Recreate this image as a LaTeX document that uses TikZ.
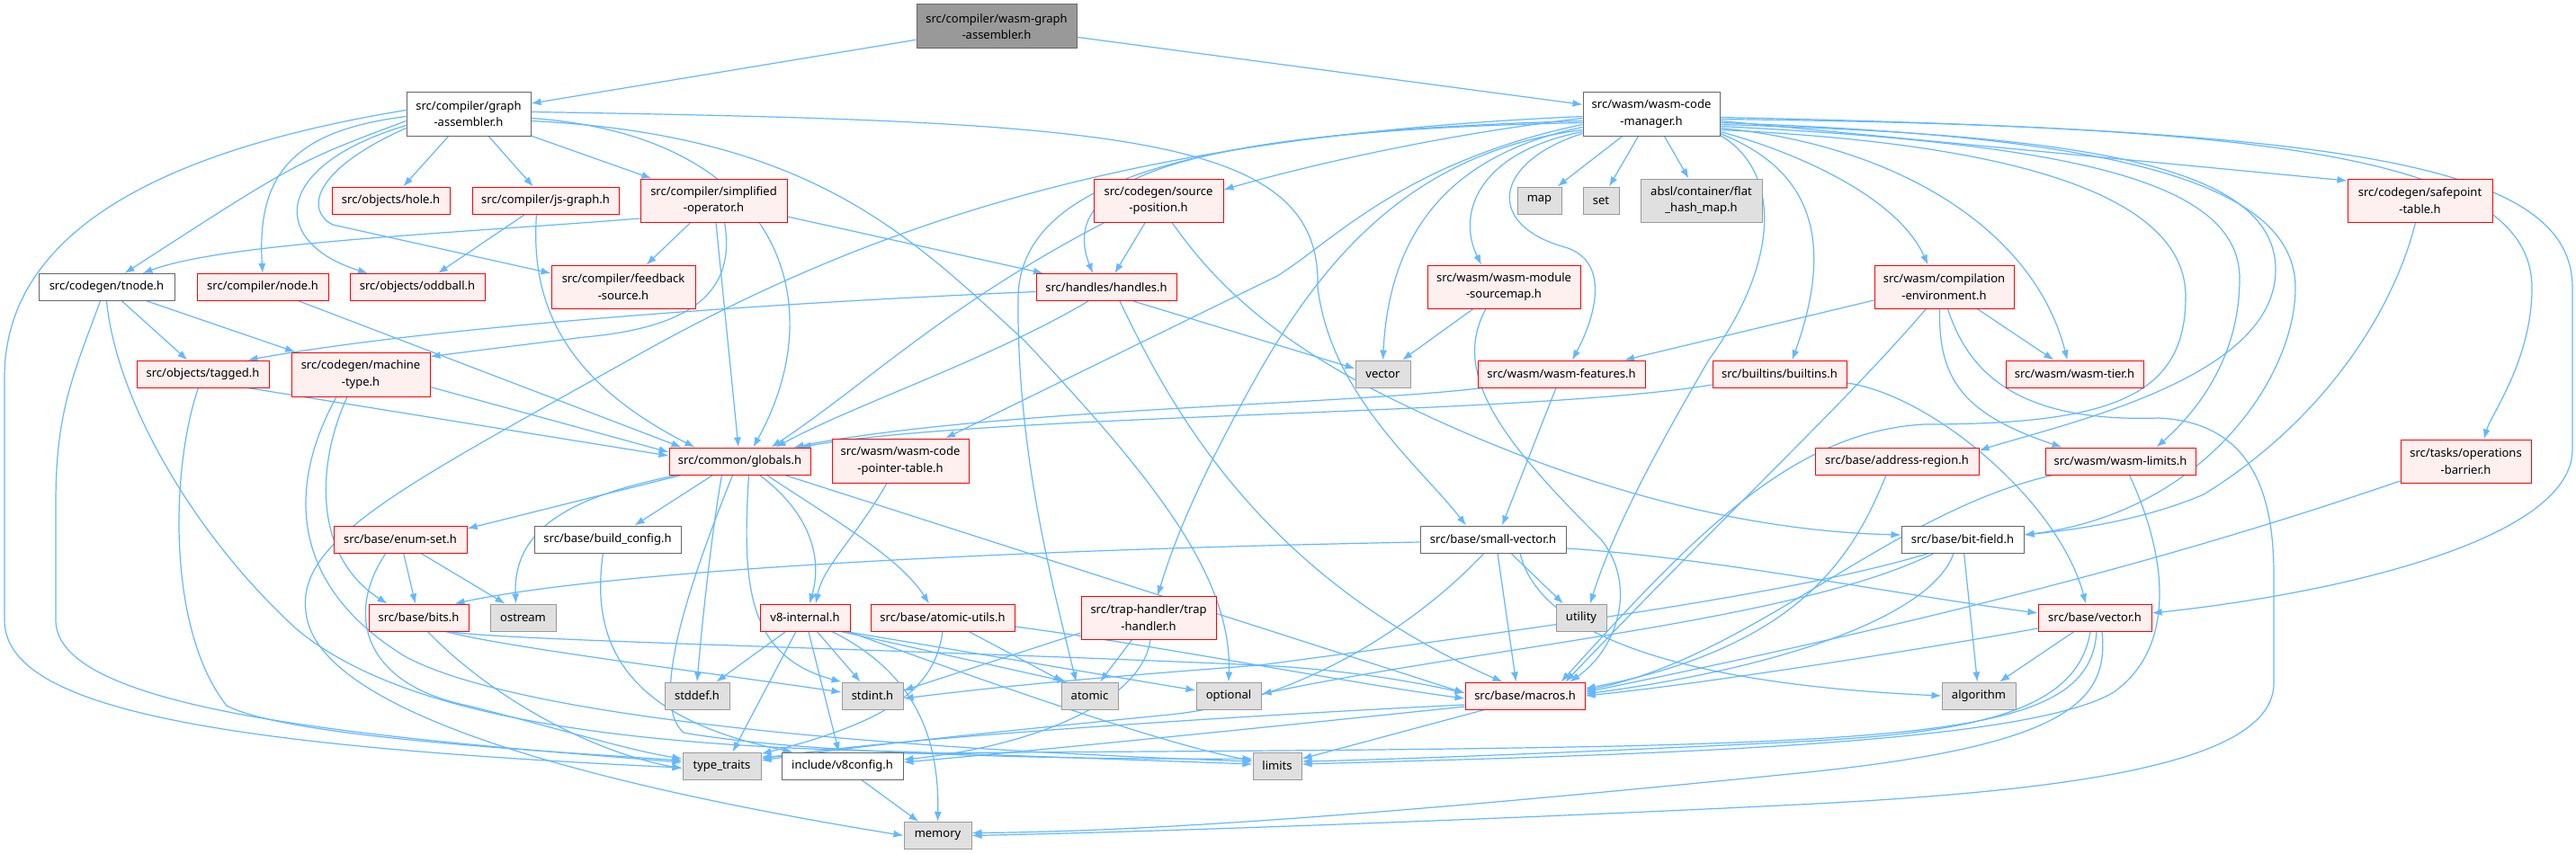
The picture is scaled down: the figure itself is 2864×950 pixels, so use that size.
\documentclass[tikz,border=0pt]{standalone}
\usepackage{fontspec}
\usetikzlibrary{arrows.meta}
\newfontfamily\nodefontfam{Noto Sans}
\newcommand\nodefont{\nodefontfam\fontsize{13}{18.5}\selectfont}
\definecolor{edgeblue}{HTML}{63B8FF}
\definecolor{nodered}{HTML}{FF0000}
\definecolor{nodefill}{HTML}{FFF0F0}
\definecolor{graydraw}{HTML}{999999}
\definecolor{grayfill}{HTML}{E0E0E0}
\definecolor{whitedraw}{HTML}{666666}
\definecolor{rootfill}{HTML}{999999}
\pgfdeclarelayer{bg}
\pgfdeclarelayer{edges}
\pgfsetlayers{bg,edges,main}
\tikzset{
 box/.style={draw, line width=1pt, inner sep=0pt, align=center, font=\nodefont, minimum height=30pt},
 rednode/.style={box, draw=nodered, fill=nodefill},
 graynode/.style={box, draw=graydraw, fill=grayfill},
 whitenode/.style={box, draw=whitedraw, fill=white},
 rootnode/.style={box, draw=whitedraw, fill=rootfill},
 edge/.style={draw=edgeblue, line width=1.2pt, -{Latex[length=11pt,width=8pt]}},
}
\begin{document}
\begin{tikzpicture}[x=1pt,y=-1pt]
\begin{pgfonlayer}{bg}
\fill[white] (0,0) rectangle (2864,950);
\end{pgfonlayer}
\path[use as bounding box] (0,0) rectangle (2864,950);
% nodes
\node[rootnode, minimum width=178pt, minimum height=49pt] (wga) at (1108,29.5) {src/compiler/wasm-graph\\-assembler.h};
\node[whitenode, minimum width=138pt, minimum height=49pt] (ga) at (521,126.5) {src/compiler/graph\\-assembler.h};
\node[whitenode, minimum width=152pt, minimum height=49pt] (wcm) at (1836,126.5) {src/wasm/wasm-code\\-manager.h};
\node[rednode, minimum width=131pt] (hole) at (434.5,223) {src/objects/hole.h};
\node[rednode, minimum width=163pt] (jsgraph) at (606.5,223) {src/compiler/js-graph.h};
\node[rednode, minimum width=163pt, minimum height=48pt] (simpop) at (793.5,223) {src/compiler/simplified\\-operator.h};
\node[rednode, minimum width=144pt, minimum height=48pt] (srcpos) at (1288,223) {src/codegen/source\\-position.h};
\node[graynode, minimum width=49pt] (map) at (1711.5,223) {map};
\node[graynode, minimum width=40pt] (set) at (1780,223) {set};
\node[graynode, minimum width=135pt, minimum height=48pt] (flat) at (1891.5,223) {absl/container/flat\\\_hash\_map.h};
\node[rednode, minimum width=161pt, minimum height=48pt] (safepoint) at (2690.5,223) {src/codegen/safepoint\\-table.h};
\node[whitenode, minimum width=151pt] (tnode) at (118.5,319.5) {src/codegen/tnode.h};
\node[rednode, minimum width=146pt] (cnode) at (292,319.5) {src/compiler/node.h};
\node[rednode, minimum width=150pt] (oddball) at (464,319.5) {src/objects/oddball.h};
\node[rednode, minimum width=160pt, minimum height=48pt] (feedback) at (693,319) {src/compiler/feedback\\-source.h};
\node[rednode, minimum width=156pt] (handles) at (1230,319.5) {src/handles/handles.h};
\node[rednode, minimum width=170pt, minimum height=48pt] (sourcemap) at (1672,319) {src/wasm/wasm-module\\-sourcemap.h};
\node[rednode, minimum width=155pt, minimum height=48pt] (compenv) at (2161.5,319) {src/wasm/compilation\\-environment.h};
\node[rednode, minimum width=147pt] (tagged) at (225.5,416) {src/objects/tagged.h};
\node[rednode, minimum width=154pt, minimum height=49pt] (machine) at (401,416.5) {src/codegen/machine\\-type.h};
\node[graynode, minimum width=61pt] (vectorstd) at (1537.5,416) {vector};
\node[rednode, minimum width=186pt] (features) at (1736,416) {src/wasm/wasm-features.h};
\node[rednode, minimum width=149pt] (builtins) at (1978.5,416) {src/builtins/builtins.h};
\node[rednode, minimum width=153pt] (tier) at (2306.5,416) {src/wasm/wasm-tier.h};
\node[rednode, minimum width=157pt] (globals) at (822.5,513) {src/common/globals.h};
\node[rednode, minimum width=152pt, minimum height=49pt] (cptable) at (1001,512.5) {src/wasm/wasm-code\\-pointer-table.h};
\node[rednode, minimum width=182pt] (addr) at (2109,513) {src/base/address-region.h};
\node[rednode, minimum width=167pt] (limitsw) at (2357.5,513) {src/wasm/wasm-limits.h};
\node[rednode, minimum width=145pt, minimum height=48pt] (opbarrier) at (2741.5,513) {src/tasks/operations\\-barrier.h};
\node[rednode, minimum width=148pt] (enumset) at (445,600) {src/base/enum-set.h};
\node[whitenode, minimum width=163pt] (buildconfig) at (675.5,600) {src/base/build\_config.h};
\node[whitenode, minimum width=162pt] (smallvec) at (1660,600) {src/base/small-vector.h};
\node[whitenode, minimum width=136pt] (bitfield) at (2182,600) {src/base/bit-field.h};
\node[rednode, minimum width=111pt] (bits) at (465.5,687) {src/base/bits.h};
\node[graynode, minimum width=73pt] (ostream) at (581.5,687) {ostream};
\node[rednode, minimum width=100pt] (v8internal) at (895,687) {v8-internal.h};
\node[rednode, minimum width=160pt] (atomicutils) at (1048,687) {src/base/atomic-utils.h};
\node[rednode, minimum width=150pt, minimum height=48pt] (trap) at (1277,687) {src/trap-handler/trap\\-handler.h};
\node[graynode, minimum width=56pt] (utility) at (1758,687) {utility};
\node[rednode, minimum width=126pt] (basevector) at (2329,687) {src/base/vector.h};
\node[graynode, minimum width=72pt] (stddef) at (775,774) {stddef.h};
\node[graynode, minimum width=68pt] (stdint) at (970,774) {stdint.h};
\node[graynode, minimum width=63pt] (atomic) at (1211.5,774) {atomic};
\node[graynode, minimum width=72pt] (optional) at (1366,774) {optional};
\node[rednode, minimum width=133pt] (macros) at (1695.5,774) {src/base/macros.h};
\node[graynode, minimum width=82pt] (algorithm) at (2200,774) {algorithm};
\node[graynode, minimum width=87pt] (typetraits) at (802.5,852) {type\_traits};
\node[whitenode, minimum width=135pt] (v8config) at (936.5,852) {include/v8config.h};
\node[graynode, minimum width=54pt] (limits) at (1420,852) {limits};
\node[graynode, minimum width=75pt] (memory) at (1042.5,929.5) {memory};
% edges
\begin{pgfonlayer}{edges}
\draw[edge] (wga) -- (ga);
\draw[edge] (wga) -- (wcm);
% graph-assembler
\draw[edge] (ga) -- (hole);
\draw[edge] (ga) -- (jsgraph);
\draw[edge] (ga) -- (simpop);
\draw[edge] ([yshift=-8pt]ga.west) .. controls (330,180) .. ([xshift=20pt]tnode.north);
\draw[edge] ([yshift=-3pt]ga.west) .. controls (330,145) and (285,190) .. (cnode.north);
\draw[edge] ([yshift=-13pt]ga.west) .. controls (300,185) and (300,270) .. ([xshift=-55pt]oddball.north);
\draw[edge] ([yshift=-16pt]ga.west) .. controls (345,190) and (340,235) .. (370,250) -- ([yshift=15pt]feedback.west);
\draw[edge] ([yshift=4pt]ga.west) .. controls (100,180) and (5,300) .. (5,420) -- (5,690) .. controls (5,790) and (250,830) .. ([yshift=-2pt]typetraits.west);
\draw[edge] ([yshift=-5pt]ga.east) .. controls (860,150) and (930,330) .. ([xshift=15pt]globals.north);
\draw[edge] ([yshift=-8pt]ga.east) .. controls (900,150) and (1010,260) .. (1140,380) .. controls (1280,530) and (1370,640) .. (optional.north);
\draw[edge] ([yshift=2pt]ga.east) .. controls (1250,135) and (1470,150) .. (1465,320) .. controls (1480,440) and (1580,520) .. ([xshift=-30pt]smallvec.north);
% wasm-code-manager
\draw[edge] (wcm) -- (map);
\draw[edge] (wcm) -- (set);
\draw[edge] (wcm) -- (flat);
\draw[edge] ([yshift=-5pt]wcm.west) .. controls (1600,150) and (1450,185) .. ([yshift=12pt]srcpos.east);
\draw[edge] ([yshift=-8pt]wcm.east) -- ([yshift=22pt]safepoint.west);
\draw[edge] ([yshift=-10pt]wcm.west) .. controls (1350,145) and (1170,190) .. ([xshift=-15pt]handles.north);
\draw[edge] ([yshift=-20pt]wcm.west) .. controls (1640,170) and (1620,240) .. ([xshift=-25pt]sourcemap.north);
\draw[edge] ([yshift=-20pt]wcm.east) .. controls (2000,170) and (2110,220) .. ([xshift=-18pt]compenv.north);
\draw[edge] ([yshift=-15pt]wcm.west) .. controls (1620,170) and (1545,250) .. (vectorstd.north);
\draw[edge] ([yshift=-22pt]wcm.west) .. controls (1660,180) and (1650,250) .. (1740,275) .. controls (1790,290) and (1775,350) .. ([xshift=12pt]features.north);
\draw[edge] ([yshift=-22pt]wcm.east) .. controls (1990,180) and (2050,240) .. ([xshift=14pt]builtins.north);
\draw[edge] ([yshift=-16pt]wcm.east) .. controls (2100,160) and (2260,250) .. ([xshift=-8pt]tier.north);
\draw[edge] ([yshift=-12pt]wcm.west) .. controls (1560,180) and (1480,270) .. (1420,307) -- ([xshift=50pt]cptable.north);
\draw[edge] ([yshift=-12pt]wcm.east) .. controls (2300,150) and (2530,180) .. (2530,300) .. controls (2530,420) and (2300,470) .. ([yshift=12pt]addr.east);
\draw[edge] ([yshift=-14pt]wcm.east) .. controls (2300,160) and (2490,200) .. (2490,310) .. controls (2490,400) and (2440,460) .. ([xshift=40pt]limitsw.north);
\draw[edge] ([yshift=-6pt]wcm.east) .. controls (2500,140) and (2815,170) .. (2815,320) .. controls (2815,400) and (2770,460) .. ([xshift=20pt]opbarrier.north);
\draw[edge] ([yshift=-10pt]wcm.east) .. controls (2300,150) and (2552,190) .. (2552,320) .. controls (2552,420) and (2450,570) .. ([yshift=5pt]bitfield.east);
\draw[edge] ([yshift=-18pt]wcm.west) .. controls (1560,170) and (1460,300) .. (1380,450) .. controls (1320,560) and (1300,620) .. ([xshift=10pt]trap.north);
\draw[edge] ([yshift=-24pt]wcm.east) .. controls (1980,190) and (1980,290) .. (1900,400) .. controls (1830,520) and (1790,600) .. ([xshift=10pt]utility.north);
\draw[edge] ([yshift=-4pt]wcm.east) .. controls (2600,145) and (2860,180) .. (2860,320) -- (2860,500) .. controls (2860,600) and (2600,660) .. ([yshift=5pt]basevector.east);
\draw[edge] ([yshift=-8pt]wcm.west) .. controls (1400,145) and (1135,180) .. (1132,330) .. controls (1130,500) and (1170,650) .. ([xshift=-15pt]atomic.north);
\draw[edge] ([yshift=-18pt]wcm.east) .. controls (2250,160) and (2430,220) .. (2430,330) .. controls (2430,440) and (2350,472) .. (2140,472) .. controls (1990,480) and (1880,600) .. ([xshift=40pt]macros.north);
\draw[edge] ([yshift=-3pt]wcm.west) .. controls (1300,150) and (1000,230) .. (700,400) .. controls (450,540) and (330,600) .. (340,680) .. controls (350,800) and (700,880) .. (memory.west);
% simplified-operator
\draw[edge] ([yshift=-20pt]simpop.west) .. controls (500,260) and (250,270) .. ([xshift=40pt]tnode.north);
\draw[edge] (simpop) -- (feedback);
\draw[edge] ([yshift=-18pt]simpop.east) -- ([xshift=-70pt]handles.north);
\draw[edge] (simpop) -- (globals);
\draw[edge] ([xshift=12pt]simpop.south) .. controls (820,330) and (760,365) .. (650,375) -- ([yshift=20pt]machine.east);
% js-graph, node
\draw[edge] (jsgraph) -- (oddball);
\draw[edge] ([xshift=-10pt]jsgraph.south) .. controls (590,330) and (620,420) .. ([xshift=-50pt]globals.north);
\draw[edge] (cnode) -- ([xshift=-65pt]globals.north);
% tnode
\draw[edge] (tnode) -- (tagged);
\draw[edge] (tnode) -- (machine);
\draw[edge] ([xshift=-7pt]tnode.south) .. controls (80,420) and (62,460) .. (62,560) -- (62,690) .. controls (62,790) and (400,820) .. ([yshift=4pt]typetraits.west);
\draw[edge] (tnode.south) .. controls (130,450) and (220,600) .. (330,700) .. controls (450,800) and (700,830) .. (1000,836) -- ([yshift=2pt]limits.west);
% tagged, machine-type
\draw[edge] ([xshift=50pt]tagged.south) -- ([yshift=6pt]globals.west);
\draw[edge] ([xshift=-5pt]tagged.south) .. controls (190,520) and (185,700) .. (252,785) .. controls (320,820) and (600,835) .. ([yshift=6pt]typetraits.west);
\draw[edge] ([yshift=-14pt]machine.east) -- ([yshift=10pt]globals.west);
\draw[edge] ([xshift=-15pt]machine.south) .. controls (350,520) and (350,620) .. ([xshift=-35pt]bits.north);
\draw[edge] ([xshift=-27pt]machine.south) .. controls (320,540) and (320,650) .. (450,730) .. controls (560,790) and (900,830) .. ([yshift=5pt]limits.west);
% handles
\draw[edge] ([yshift=-5pt]handles.west) .. controls (900,335) and (500,360) .. ([xshift=50pt]tagged.north);
\draw[edge] ([xshift=-20pt]handles.south) .. controls (1100,400) and (950,450) .. ([xshift=40pt]globals.north);
\draw[edge] ([xshift=30pt]handles.south) -- ([yshift=6pt]vectorstd.west);
\draw[edge] ([xshift=15pt]handles.south) .. controls (1300,450) and (1400,640) .. ([xshift=-25pt]macros.north);
% source-position
\draw[edge] (srcpos) -- (handles);
\draw[edge] ([xshift=-60pt]srcpos.south) .. controls (1050,340) and (960,430) .. ([xshift=35pt]globals.north);
\draw[edge] ([xshift=15pt]srcpos.south) .. controls (1340,300) and (1400,370) .. (1540,440) .. controls (1700,520) and (1900,590) .. ([yshift=5pt]bitfield.west);
% sourcemap
\draw[edge] (sourcemap) -- (vectorstd);
\draw[edge] ([xshift=-20pt]sourcemap.south) .. controls (1610,420) and (1680,500) .. (1780,600) .. controls (1820,650) and (1800,720) .. ([xshift=50pt]macros.north);
% compilation-environment
\draw[edge] ([yshift=-15pt]compenv.west) -- ([xshift=70pt]features.north);
\draw[edge] (compenv) -- (tier);
\draw[edge] ([xshift=-5pt]compenv.south) .. controls (2155,420) and (2180,460) .. ([xshift=-65pt]limitsw.north);
\draw[edge] ([xshift=4pt]compenv.south) .. controls (2190,420) and (2250,470) .. (2400,465) .. controls (2510,470) and (2528,560) .. (2528,640) -- (2528,760) .. controls (2528,850) and (2300,880) .. (2000,895) .. controls (1700,910) and (1300,925) .. (memory.east);
\draw[edge] ([xshift=-20pt]compenv.south) .. controls (2050,450) and (1930,560) .. ([xshift=45pt]macros.north);
% features, builtins
\draw[edge] ([xshift=-88pt]features.south) .. controls (1500,450) and (1100,455) .. ([xshift=60pt]globals.north);
\draw[edge] (features) -- ([xshift=10pt]smallvec.north);
\draw[edge] ([yshift=-12pt]builtins.west) .. controls (1700,462) and (1100,460) .. ([xshift=68pt]globals.north);
\draw[edge] ([yshift=-10pt]builtins.east) .. controls (2150,440) and (2290,560) .. ([xshift=-10pt]basevector.north);
% safepoint, address-region, wasm-limits, operations-barrier, code-pointer-table
\draw[edge] ([xshift=-5pt]safepoint.south) .. controls (2660,350) and (2580,470) .. (2450,550) .. controls (2380,580) and (2300,590) .. ([yshift=5pt]bitfield.east);
\draw[edge] ([xshift=-12pt]addr.south) .. controls (2060,620) and (2000,720) .. ([yshift=8pt]macros.east);
\draw[edge] ([xshift=-75pt]limitsw.south) .. controls (2100,570) and (1950,730) .. ([yshift=6pt]macros.east);
\draw[edge] ([xshift=10pt]limitsw.south) .. controls (2410,620) and (2420,720) .. (2350,770) .. controls (2250,830) and (1800,840) .. ([yshift=2pt]limits.east);
\draw[edge] ([yshift=-22pt]opbarrier.west) .. controls (2450,610) and (2200,680) .. ([yshift=4pt]macros.east);
\draw[edge] ([xshift=-15pt]cptable.south) .. controls (950,600) and (915,630) .. ([xshift=12pt]v8internal.north);
% globals
\draw[edge] ([xshift=-65pt]globals.south) -- ([yshift=12pt]enumset.east);
\draw[edge] ([xshift=-30pt]globals.south) -- ([xshift=30pt]buildconfig.north);
\draw[edge] ([xshift=-70pt]globals.south) .. controls (650,550) and (570,580) .. ([xshift=-8pt]ostream.north);
\draw[edge] ([xshift=22pt]globals.south) .. controls (900,570) and (915,620) .. ([xshift=5pt]v8internal.north);
\draw[edge] ([xshift=30pt]globals.south) .. controls (930,580) and (1000,620) .. ([xshift=-15pt]atomicutils.north);
\draw[edge] ([xshift=-20pt]globals.south) .. controls (790,600) and (780,700) .. (stddef.north);
\draw[edge] ([xshift=10pt]globals.south) .. controls (825,650) and (830,730) .. (stdint.north west);
\draw[edge] ([xshift=50pt]globals.south) -- ([yshift=3pt]macros.west);
\draw[edge] ([xshift=-8pt]globals.south) .. controls (770,640) and (720,780) .. (760,815) .. controls (900,840) and (1200,845) .. ([yshift=8pt]limits.west);
% enum-set, build_config, bits
\draw[edge] (enumset) -- (bits);
\draw[edge] ([xshift=23pt]enumset.south) -- ([xshift=-20pt]ostream.north);
\draw[edge] ([xshift=-16pt]enumset.south) .. controls (385,680) and (400,760) .. (520,785) .. controls (620,810) and (700,835) .. ([yshift=8pt]typetraits.west);
\draw[edge] ([xshift=-5pt]buildconfig.south) .. controls (655,720) and (700,800) .. ([xshift=-55pt]v8config.north);
\draw[edge] ([xshift=30pt]bits.south) .. controls (560,720) and (800,750) .. ([yshift=4pt]stdint.west);
\draw[edge] ([xshift=10pt]bits.south) .. controls (540,770) and (650,835) .. ([yshift=-3pt]typetraits.west);
\draw[edge] ([xshift=35pt]bits.south) .. controls (540,712) and (1000,722) .. (1400,740) .. controls (1500,745) and (1580,760) .. ([yshift=3pt]macros.west);
% v8-internal
\draw[edge] (v8internal) -- (stddef);
\draw[edge] (v8internal) -- (stdint);
\draw[edge] ([xshift=-10pt]v8internal.south) -- ([xshift=12pt]typetraits.north);
\draw[edge] (v8internal) -- (v8config);
\draw[edge] ([xshift=30pt]v8internal.south) .. controls (1000,740) and (1045,800) .. (memory.north);
\draw[edge] ([xshift=40pt]v8internal.south) -- ([xshift=-25pt]atomic.north);
\draw[edge] ([xshift=45pt]v8internal.south) -- ([yshift=6pt]optional.west);
\draw[edge] ([xshift=48pt]v8internal.south) .. controls (1100,760) and (1300,830) .. ([yshift=6pt]limits.west);
% atomic-utils, trap-handler
\draw[edge] (atomicutils) -- (atomic);
\draw[edge] (atomicutils.south) .. controls (1040,760) and (1000,800) .. ([yshift=-2pt]typetraits.north east);
\draw[edge] ([yshift=-10pt]atomicutils.east) .. controls (1300,720) and (1500,760) .. ([yshift=-3pt]macros.west);
\draw[edge] (trap) -- (atomic);
\draw[edge] ([yshift=-17pt]trap.west) -- ([yshift=6pt]stdint.east);
\draw[edge] ([xshift=2pt]trap.south) .. controls (1270,780) and (1150,830) .. ([yshift=7pt]v8config.east);
% small-vector
\draw[edge] ([yshift=-3pt]smallvec.west) .. controls (1200,610) and (700,630) .. ([xshift=40pt]bits.north);
\draw[edge] ([xshift=20pt]smallvec.south) -- ([xshift=-20pt]utility.north);
\draw[edge] ([xshift=5pt]smallvec.south) -- ([xshift=-10pt]macros.north);
\draw[edge] ([yshift=-10pt]smallvec.east) .. controls (1900,620) and (2100,660) .. ([yshift=5pt]basevector.west);
\draw[edge] ([xshift=-10pt]smallvec.south) .. controls (1580,690) and (1450,780) .. (1300,795) .. controls (1100,815) and (950,830) .. ([yshift=6pt]typetraits.east);
\draw[edge] ([xshift=30pt]smallvec.south) .. controls (1710,700) and (1850,760) .. (algorithm.west);
% bit-field
\draw[edge] (bitfield) -- (algorithm);
\draw[edge] ([xshift=-10pt]bitfield.south) .. controls (2150,680) and (2000,740) .. ([yshift=2pt]macros.east);
\draw[edge] ([xshift=-38pt]bitfield.south) .. controls (2000,660) and (1700,700) .. (1400,740) .. controls (1200,755) and (1100,765) .. ([yshift=-3pt]stdint.east);
\draw[edge] ([xshift=-32pt]bitfield.south) .. controls (2000,690) and (1650,720) .. ([yshift=2pt]optional.east);
% base/vector
\draw[edge] ([yshift=-12pt]basevector.west) .. controls (2150,720) and (1900,760) .. (macros.east);
\draw[edge] (basevector) -- (algorithm);
\draw[edge] ([xshift=-5pt]basevector.south) .. controls (2310,790) and (2200,815) .. (2000,825) .. controls (1800,835) and (1550,845) .. ([yshift=5pt]limits.east);
\draw[edge] ([xshift=2pt]basevector.south) .. controls (2325,800) and (2200,820) .. (1800,830) .. controls (1400,838) and (1000,835) .. ([yshift=10pt]typetraits.east);
\draw[edge] ([xshift=8pt]basevector.south) .. controls (2345,780) and (2300,830) .. (2000,860) .. controls (1600,900) and (1300,925) .. ([yshift=3pt]memory.east);
% macros, v8config
\draw[edge] ([xshift=-45pt]macros.south) -- ([yshift=8pt]limits.east);
\draw[edge] ([yshift=-10pt]macros.west) .. controls (1400,795) and (1000,820) .. ([yshift=8pt]typetraits.east);
\draw[edge] ([yshift=-12pt]macros.west) .. controls (1400,810) and (1150,835) .. ([yshift=4pt]v8config.east);
\draw[edge] (v8config) -- (memory);
\end{pgfonlayer}
\end{tikzpicture}
\end{document}
